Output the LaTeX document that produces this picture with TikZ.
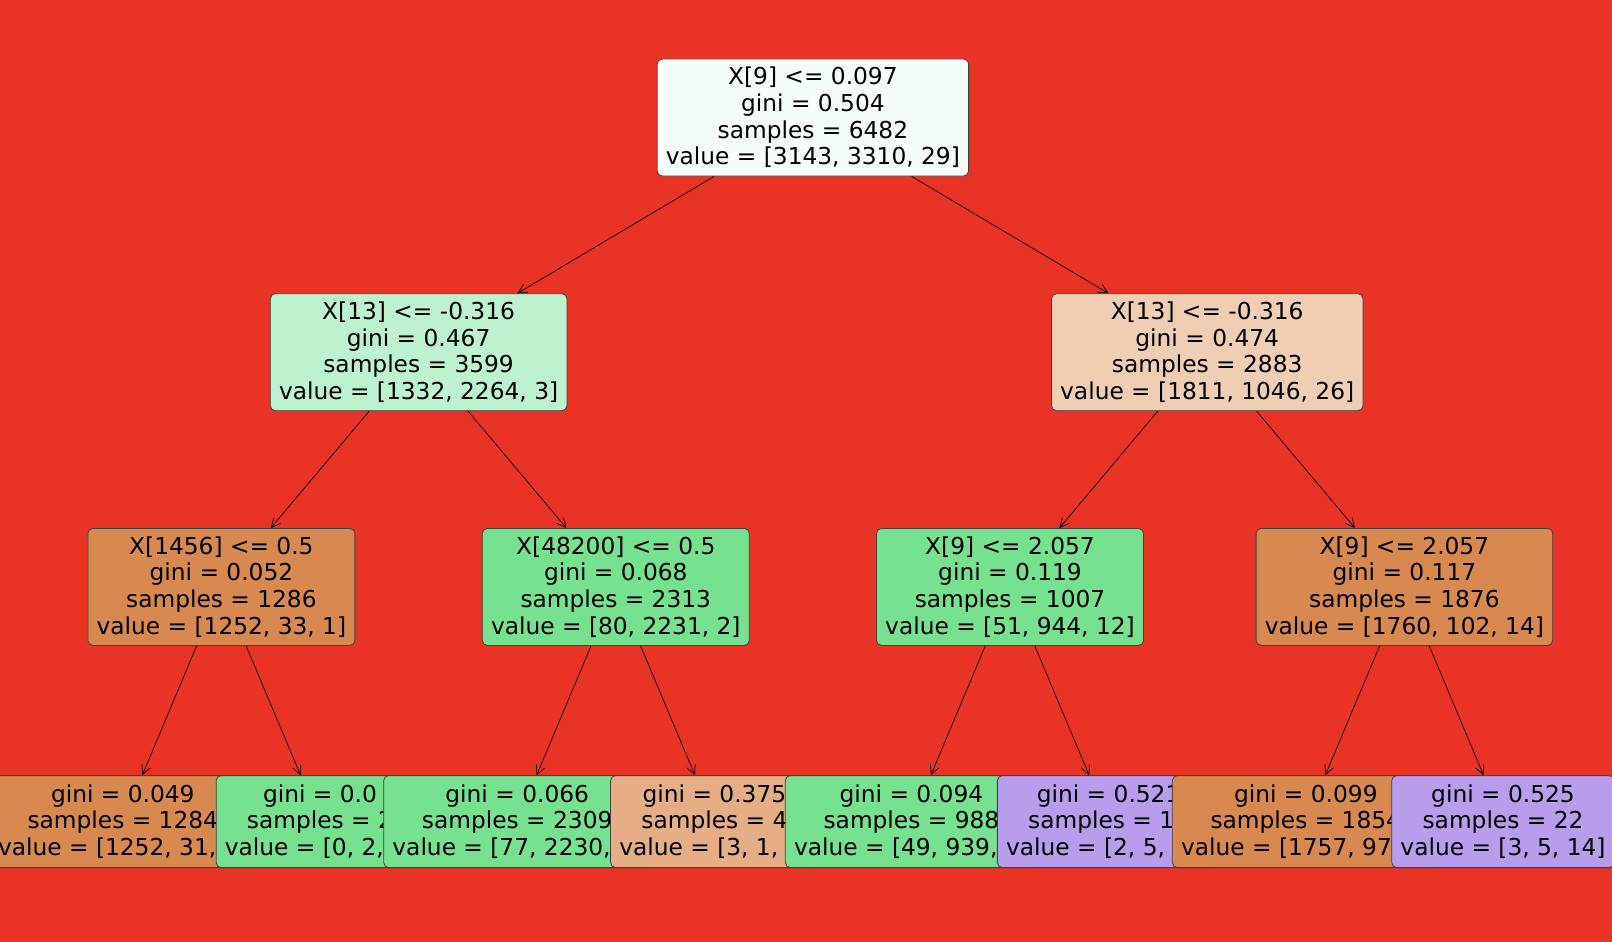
\documentclass[tikz,border=0pt]{standalone}
\usepackage{fontspec}
\setmainfont{DejaVu Sans}
\usetikzlibrary{arrows.meta, positioning}
\newcommand{\splitheight}{117pt}
\newcommand{\leafheight}{92pt}
\definecolor{bgred}{RGB}{233,51,36}
\definecolor{rootfill}{RGB}{246,254,250}
\definecolor{greenpale}{RGB}{189,242,206}
\definecolor{peachpale}{RGB}{239,206,179}
\definecolor{orangefill}{RGB}{216,137,80}
\definecolor{greenfill}{RGB}{118,226,143}
\definecolor{peachfill}{RGB}{229,174,132}
\definecolor{purplefill}{RGB}{184,157,236}
\tikzstyle{splitnode} = [% a split of the tree: test, gini, samples, value
  rectangle,
  rounded corners=5pt,
  minimum height=\splitheight,
  inner xsep=8.7pt,
  align=center,
  font=\fontsize{23.3pt}{26.7pt}\selectfont,
  draw=black!75,
  line width=0.8pt
  ]
\tikzstyle{leafnode} = [% a leaf: gini, samples, value
  splitnode,
  minimum height=\leafheight
  ]
\tikzstyle{arrow} = [% arrow from parent to child
  line width=0.7pt,
  -{Straight Barb[length=9pt,width=9pt]}
  ]

\begin{document}
\begin{tikzpicture}[x=1pt, y=1pt, on grid, node distance=234.7pt and 197.2pt]

%%% Background
\useasboundingbox (0,0) rectangle (1612,-942);
\fill[bgred] (0,0) rectangle (1612,-942);

%%% Nodes
\node[splitnode, fill=rootfill] (root) at (812.9,-117.5) {X[9] <= 0.097\\gini = 0.504\\samples = 6482\\value = [3143, 3310, 29]};
\node[splitnode, fill=greenpale] (nleft) [below left=234.7pt and 394.3pt of root] {X[13] <= -0.316\\gini = 0.467\\samples = 3599\\value = [1332, 2264, 3]};
\node[splitnode, fill=orangefill] (nll) [below left=of nleft] {X[1456] <= 0.5\\gini = 0.052\\samples = 1286\\value = [1252, 33, 1]};
\node[leafnode, fill=orangefill] (leaf1) [below left=234.7pt and 98.6pt of nll] {gini = 0.049\\samples = 1284\\value = [1252, 31, 1]};
\node[leafnode, fill=greenfill] (leaf2) [below right=234.7pt and 98.6pt of nll] {gini = 0.0\\samples = 2\\value = [0, 2, 0]};
\node[splitnode, fill=greenfill] (nlr) [below right=of nleft] {X[48200] <= 0.5\\gini = 0.068\\samples = 2313\\value = [80, 2231, 2]};
\node[leafnode, fill=greenfill] (leaf3) [below left=234.7pt and 98.6pt of nlr] {gini = 0.066\\samples = 2309\\value = [77, 2230, 2]};
\node[leafnode, fill=peachfill] (leaf4) [below right=234.7pt and 98.6pt of nlr] {gini = 0.375\\samples = 4\\value = [3, 1, 0]};
\node[splitnode, fill=peachpale] (nright) [below right=234.7pt and 394.3pt of root] {X[13] <= -0.316\\gini = 0.474\\samples = 2883\\value = [1811, 1046, 26]};
\node[splitnode, fill=greenfill] (nrl) [below left=of nright] {X[9] <= 2.057\\gini = 0.119\\samples = 1007\\value = [51, 944, 12]};
\node[leafnode, fill=greenfill] (leaf5) [below left=234.7pt and 98.6pt of nrl] {gini = 0.094\\samples = 988\\value = [49, 939, 0]};
\node[leafnode, fill=purplefill] (leaf6) [below right=234.7pt and 98.6pt of nrl] {gini = 0.521\\samples = 19\\value = [2, 5, 12]};
\node[splitnode, fill=orangefill] (nrr) [below right=of nright] {X[9] <= 2.057\\gini = 0.117\\samples = 1876\\value = [1760, 102, 14]};
\node[leafnode, fill=orangefill] (leaf7) [below left=234.7pt and 98.6pt of nrr] {gini = 0.099\\samples = 1854\\value = [1757, 97, 0]};
\node[leafnode, fill=purplefill] (leaf8) [below right=234.7pt and 98.6pt of nrr] {gini = 0.525\\samples = 22\\value = [3, 5, 14]};

%%% Arrows
\draw[arrow] (root) -- (nleft);
\draw[arrow] (root) -- (nright);
\draw[arrow] (nleft) -- (nll);
\draw[arrow] (nleft) -- (nlr);
\draw[arrow] (nright) -- (nrl);
\draw[arrow] (nright) -- (nrr);
\draw[arrow] (nll) -- (leaf1);
\draw[arrow] (nll) -- (leaf2);
\draw[arrow] (nlr) -- (leaf3);
\draw[arrow] (nlr) -- (leaf4);
\draw[arrow] (nrl) -- (leaf5);
\draw[arrow] (nrl) -- (leaf6);
\draw[arrow] (nrr) -- (leaf7);
\draw[arrow] (nrr) -- (leaf8);

\end{tikzpicture}
\end{document}
